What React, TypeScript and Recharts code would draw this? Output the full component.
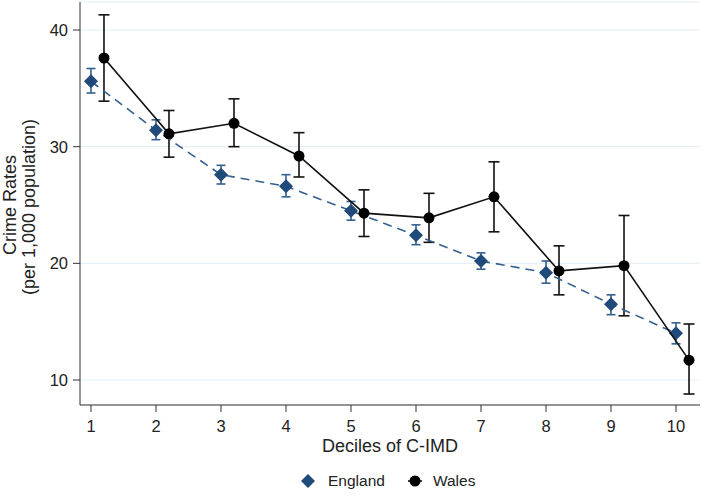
import React from "react";
import {
  ComposedChart,
  Scatter,
  XAxis,
  YAxis,
  CartesianGrid,
  ErrorBar,
  Label,
} from "recharts";

document.body.style.margin = "0";

// deciles of C-IMD (x axis)
const deciles = [1, 2, 3, 4, 5, 6, 7, 8, 9, 10];
const xTicks = [1, 2, 3, 4, 5, 6, 7, 8, 9, 10];
const yTicks = [10, 20, 30, 40];

// England, crime rate per 1,000 with 95% CI
const englandRate = [35.6, 31.4, 27.6, 26.6, 24.5, 22.4, 20.2, 19.2, 16.5, 14.0];
const englandLow = [34.6, 30.6, 26.8, 25.7, 23.7, 21.6, 19.5, 18.3, 15.6, 13.1];
const englandHigh = [36.7, 32.3, 28.4, 27.6, 25.3, 23.3, 20.9, 20.2, 17.3, 14.9];

// Wales, drawn a little to the right of each decile
const walesOffset = 0.2;
const walesRate = [37.6, 31.1, 32.0, 29.2, 24.3, 23.9, 25.7, 19.35, 19.8, 11.7];
const walesLow = [33.9, 29.1, 30.0, 27.4, 22.3, 21.8, 22.7, 17.3, 15.5, 8.8];
const walesHigh = [41.3, 33.1, 34.1, 31.2, 26.3, 26.0, 28.7, 21.5, 24.1, 14.8];

const NAVY = "#1f4a7a";
const NAVY_LINE = "#33608e";
const AXIS = "#333333";
const FONT = "'Liberation Sans', Arial, sans-serif";

const englandData = deciles.map((d, i) => ({
  x: d,
  y: englandRate[i],
  err: [englandRate[i] - englandLow[i], englandHigh[i] - englandRate[i]],
}));

const walesData = deciles.map((d, i) => ({
  x: d + walesOffset,
  y: walesRate[i],
  err: [walesRate[i] - walesLow[i], walesHigh[i] - walesRate[i]],
}));

// eslint-disable-next-line @typescript-eslint/no-explicit-any
const Diamond = (props: any) => {
  const { cx, cy } = props;
  const r = 7;
  return (
    <path
      d={`M${cx},${cy - r} L${cx + r},${cy} L${cx},${cy + r} L${cx - r},${cy} Z`}
      fill={NAVY}
    />
  );
};

// eslint-disable-next-line @typescript-eslint/no-explicit-any
const Dot = (props: any) => {
  const { cx, cy } = props;
  return <circle cx={cx} cy={cy} r={5.5} fill="#000" />;
};

const YTitle = () => (
  <g fontFamily={FONT} fontSize={18} fill="#222">
    <text transform="translate(16,205) rotate(-90)" textAnchor="middle">
      Crime Rates
    </text>
    <text transform="translate(35,207) rotate(-90)" textAnchor="middle">
      (per 1,000 population)
    </text>
  </g>
);

const LegendRow = () => (
  <div
    style={{
      position: "absolute",
      left: 298,
      top: 471,
      display: "flex",
      alignItems: "center",
      fontFamily: FONT,
      fontSize: 15.5,
      color: "#222",
    }}
  >
    <svg width={20} height={20}>
      <path d="M10,3 L17,10 L10,17 L3,10 Z" fill={NAVY} />
    </svg>
    <span style={{ marginLeft: 10 }}>England</span>
    <svg width={20} height={20} style={{ marginLeft: 20 }}>
      <line x1={3} y1={10} x2={17} y2={10} stroke="#000" strokeWidth={1.5} />
      <circle cx={10} cy={10} r={5.5} fill="#000" />
    </svg>
    <span style={{ marginLeft: 8 }}>Wales</span>
  </div>
);

export default function App() {
  return (
    <div style={{ position: "relative", width: 706, height: 496, background: "#fff" }}>
      <ComposedChart
        width={706}
        height={496}
        margin={{ top: 2, right: 6, bottom: 0, left: 0 }}
        style={{ fontFamily: FONT }}
      >
        <CartesianGrid horizontal vertical={false} stroke="#e6eff4" strokeWidth={1.2} />
        <XAxis
          type="number"
          dataKey="x"
          domain={[0.831, 10.369]}
          ticks={xTicks}
          allowDataOverflow
          height={91}
          stroke={AXIS}
          tickSize={7}
          tickMargin={8}
          tick={{ fill: "#222", fontSize: 16.5 }}
        >
          <Label
            content={({ viewBox }) => {
              // eslint-disable-next-line @typescript-eslint/no-explicit-any
              const vb = viewBox as any;
              return (
                <text
                  x={vb.x + vb.width / 2}
                  y={452}
                  textAnchor="middle"
                  fontSize={18}
                  fill="#222"
                  fontFamily={FONT}
                >
                  Deciles of C-IMD
                </text>
              );
            }}
          />
        </XAxis>
        <YAxis
          type="number"
          dataKey="y"
          domain={[7.857, 42.4]}
          ticks={yTicks}
          allowDataOverflow
          width={80}
          stroke={AXIS}
          tickSize={7}
          tickMargin={5}
          tick={{ fill: "#222", fontSize: 16.5 }}
        >
          <Label content={() => <YTitle />} />
        </YAxis>
        <Scatter
          name="England"
          data={englandData}
          shape={Diamond}
          line={{ stroke: NAVY_LINE, strokeWidth: 1.6, strokeDasharray: "9 6" }}
          fill={NAVY}
          isAnimationActive={false}
        >
          <ErrorBar
            dataKey="err"
            direction="y"
            width={4.5}
            stroke={NAVY_LINE}
            strokeWidth={1.6}
          />
        </Scatter>
        <Scatter
          name="Wales"
          data={walesData}
          shape={Dot}
          line={{ stroke: "#111", strokeWidth: 1.6 }}
          fill="#000"
          isAnimationActive={false}
        >
          <ErrorBar
            dataKey="err"
            direction="y"
            width={5.5}
            stroke="#111"
            strokeWidth={1.6}
          />
        </Scatter>
      </ComposedChart>
      <LegendRow />
    </div>
  );
}
